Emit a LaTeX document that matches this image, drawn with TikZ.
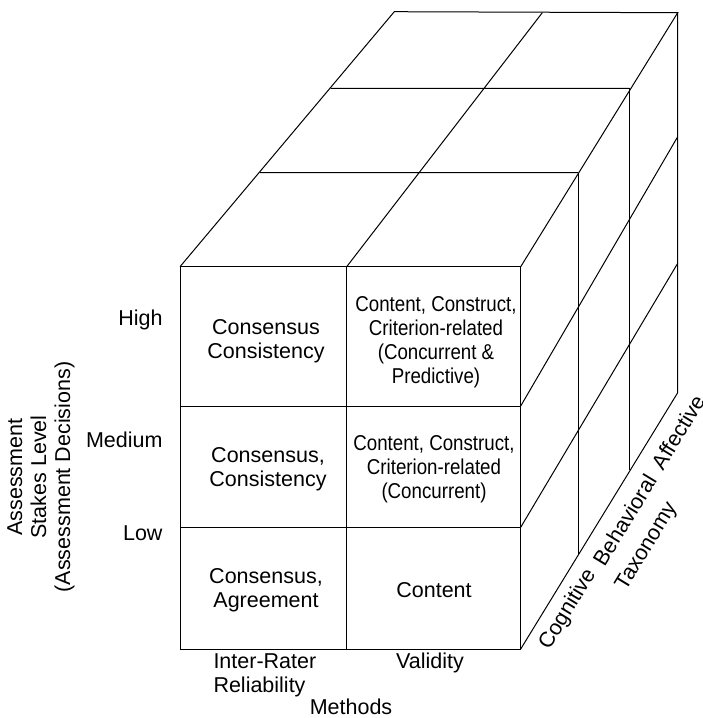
\documentclass[tikz,border=0pt]{standalone}
\usepackage{fontspec}
\setmainfont{Liberation Sans}
\newfontfamily\narrowfont{Liberation Sans}[FakeStretch=0.87]
\begin{document}
\begin{tikzpicture}[x=1pt,y=-1pt,line width=1pt,
	txt/.style={font=\fontsize{21.5}{24}\selectfont,align=center,inner sep=0pt},
	ntxt/.style={txt,font=\fontsize{21.5}{24}\narrowfont},
	lvl/.style={txt,anchor=east},
	tax/.style={txt,rotate=58.64}]
		\useasboundingbox (0,0) rectangle (703,718);
		%front face
		\draw (180,266.7) rectangle (520.7,649);
		\draw (346.7,266.7)--(346.7,649);
		\foreach \y in {406,527.3}
		\draw (180,\y)--(520.7,\y);
		%top face
		\draw (180,266.7)--(394.3,11.7)--(677.7,12.7)--(520.7,266.7);
		\draw (346.7,266.7)--(542.3,12.7) (260,172.7)--(578,172.7) (330.7,88.3)--(629.7,88.3);
		%right face
		\draw (677.7,12.7)--(677.7,392.7)--(520.7,649);
		\draw (578,172.7)--(578,555) (629.7,88.3)--(629.7,470);
		\draw (520.7,406)--(677.7,136.7) (520.7,527.3)--(677.7,263.3);
		%cells
		\node[txt] (c11) at (266,341) {Consensus\\Consistency};
		\node[ntxt] (c12) at (436,342) {Content, Construct,\\Criterion-related\\(Concurrent \&\\Predictive)};
		\node[txt] (c21) at (268,469) {Consensus,\\Consistency};
		\node[ntxt] (c22) at (434,469) {Content, Construct,\\Criterion-related\\(Concurrent)};
		\node[txt] (c31) at (266,590) {Consensus,\\Agreement};
		\node[txt] (c32) at (434,590) {Content};
		%levels
		\node[lvl] (high) at (163,320) {High};
		\node[lvl] (medium) at (163,440) {Medium};
		\node[lvl] (low) at (163,533) {Low};
		\node[txt,rotate=90] (stakes) at (41,477) {Assessment\\Stakes Level\\(Assessment Decisions)};
		%methods
		\node[txt,anchor=west,align=left] (irr) at (213,675) {Inter-Rater\\Reliability};
		\node[txt] (val) at (430,663) {Validity};
		\node[txt] (meth) at (351,707) {Methods};
		%taxonomy
		\node[tax] (cog) at (568,609.5) {Cognitive};
		\node[tax] (beh) at (624.5,520) {Behavioral};
		\node[tax] (aff) at (678,432) {Affective};
		\node[tax] (taxo) at (647,546.5) {Taxonomy};
\end{tikzpicture}
\end{document}
